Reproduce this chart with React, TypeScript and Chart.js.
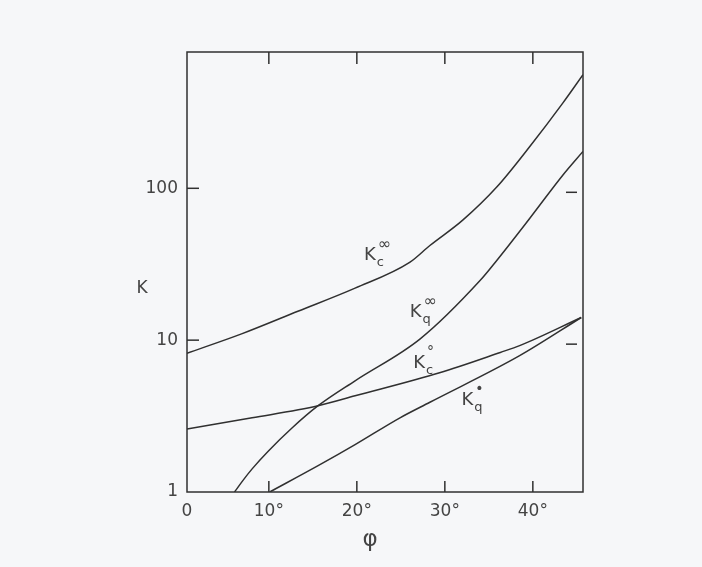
import React, { useEffect, useRef } from "react";
import { Chart, registerables } from "chart.js";

Chart.register(...registerables);

// Kc∞ curve (φ in degrees, K)
const PHI_KC_INF = [0.7, 6.9, 13.3, 19.8, 26.0, 28.3, 32.0, 35.9, 39.7, 43.4, 45.7];
const KC_INF = [8.2, 11.0, 15.5, 22.0, 32.5, 42, 61.5, 102, 190, 364, 560];

// Kq∞ curve
const PHI_KQ_INF = [6.1, 7.0, 8.1, 9.9, 12.6, 15.6, 19.8, 27.2, 34.0, 35.9, 39.7, 43.4, 45.7];
const KQ_INF = [1.0, 1.18, 1.42, 1.85, 2.63, 3.7, 5.4, 10.2, 24.7, 33.5, 64, 122, 175];

// Kc° curve
const PHI_KC_0 = [0.7, 8.1, 15.6, 19.8, 29.4, 36.3, 38.5, 45.5];
const KC_0 = [2.6, 3.08, 3.7, 4.3, 6.1, 8.3, 9.2, 14.1];

// Kq° curve
const PHI_KQ_0 = [10.1, 15.6, 19.8, 24.9, 28.3, 38.5, 45.5];
const KQ_0 = [1.0, 1.49, 2.05, 3.08, 3.9, 7.9, 14.1];

const X_TICKS = [0.7, 10, 20, 30, 40];
const X_TICK_LABELS = ["0", "10°", "20°", "30°", "40°"];
const Y_TICKS = [1, 10, 100];
const Y_TICK_LABELS = ["1", "10", "100"];

const CURVE_LABELS = [
  { phi: 20.8, k: 36.1, sub: "c", sup: "∞" },
  { phi: 26.0, k: 15.2, sub: "q", sup: "∞" },
  { phi: 26.4, k: 7.0, sub: "c", sup: "°" },
  { phi: 31.9, k: 4.0, sub: "q", sup: "•" },
];

const INK = "#303030";
const TEXT = "#444444";
const FONT = "'DejaVu Sans', sans-serif";

const pts = (xs: number[], ys: number[]) => xs.map((x, i) => ({ x, y: ys[i] }));

const framePlugin = {
  id: "frame",
  afterDraw(chart: any) {
    const { ctx, chartArea: a, scales } = chart;
    const xs = scales.x;
    const ys = scales.y;
    ctx.save();
    ctx.strokeStyle = INK;
    ctx.lineWidth = 1.5;
    ctx.strokeRect(a.left, a.top, a.right - a.left, a.bottom - a.top);
    const line = (x1: number, y1: number, x2: number, y2: number) => {
      ctx.beginPath();
      ctx.moveTo(x1, y1);
      ctx.lineTo(x2, y2);
      ctx.stroke();
    };
    [10, 20, 30, 40].forEach((v) => {
      const px = xs.getPixelForValue(v);
      line(px, a.bottom, px, a.bottom - 11);
      line(px, a.top, px, a.top + 12);
    });
    [10, 100].forEach((v) => {
      const py = ys.getPixelForValue(v);
      line(a.left, py, a.left + 12, py);
      line(a.right - 17, py + 4, a.right - 6, py + 4);
    });

    ctx.fillStyle = TEXT;
    ctx.textBaseline = "middle";
    ctx.textAlign = "center";
    ctx.font = `17px ${FONT}`;
    ctx.fillText("K", a.left - 45, ys.getPixelForValue(22));
    ctx.font = `23px ${FONT}`;
    ctx.fillText("φ", xs.getPixelForValue(21.5), a.bottom + 48);

    ctx.textAlign = "left";
    CURVE_LABELS.forEach((l) => {
      const px = xs.getPixelForValue(l.phi);
      const py = ys.getPixelForValue(l.k);
      ctx.font = `18px ${FONT}`;
      ctx.fillText("K", px, py);
      const w = ctx.measureText("K").width;
      ctx.font = `13px ${FONT}`;
      ctx.fillText(l.sub, px + w + 1, py + 7);
      ctx.font = l.sup === "∞" ? `16px ${FONT}` : `14px ${FONT}`;
      ctx.fillText(l.sup, px + w + 2, py - 11);
    });
    ctx.restore();
  },
};

export default function App() {
  const ref = useRef<HTMLCanvasElement | null>(null);

  useEffect(() => {
    if (!ref.current) return;
    const ds = (data: any[]) => ({
      data,
      borderColor: INK,
      borderWidth: 1.5,
      pointRadius: 0,
      fill: false,
      cubicInterpolationMode: "monotone" as const,
    });
    const chart = new Chart(ref.current, {
      type: "line",
      data: {
        datasets: [
          ds(pts(PHI_KC_INF, KC_INF)),
          ds(pts(PHI_KQ_INF, KQ_INF)),
          ds(pts(PHI_KC_0, KC_0)),
          ds(pts(PHI_KQ_0, KQ_0)),
        ],
      },
      options: {
        animation: false,
        responsive: false,
        layout: { padding: { left: 0, top: 52, right: 119, bottom: 0 } },
        plugins: { legend: { display: false }, tooltip: { enabled: false } },
        scales: {
          x: {
            type: "linear",
            min: 0.7,
            max: 45.7,
            grid: { display: false, drawTicks: false },
            border: { display: false },
            afterBuildTicks: (s: any) => {
              s.ticks = X_TICKS.map((v) => ({ value: v }));
            },
            afterFit: (s: any) => {
              s.height = 75;
            },
            ticks: {
              padding: 9,
              color: TEXT,
              font: { size: 17, family: FONT },
              maxRotation: 0,
              autoSkip: false,
              callback: (v: any) => {
                const i = X_TICKS.indexOf(Number(v));
                return i >= 0 ? X_TICK_LABELS[i] : "";
              },
            },
          },
          y: {
            type: "logarithmic",
            min: 1,
            max: 790,
            grid: { display: false, drawTicks: false },
            border: { display: false },
            afterBuildTicks: (s: any) => {
              s.ticks = Y_TICKS.map((v) => ({ value: v }));
            },
            afterFit: (s: any) => {
              s.width = 187;
            },
            ticks: {
              padding: 9,
              color: TEXT,
              font: { size: 17, family: FONT },
              autoSkip: false,
              callback: (v: any) => {
                const i = Y_TICKS.indexOf(Number(v));
                return i >= 0 ? Y_TICK_LABELS[i] : "";
              },
            },
          },
        },
      },
      plugins: [framePlugin],
    });
    return () => chart.destroy();
  }, []);

  return (
    <div
      style={{
        position: "fixed",
        left: 0,
        top: 0,
        width: 702,
        height: 567,
        background: "#f6f7f9",
      }}
    >
      <canvas ref={ref} width={702} height={567} style={{ display: "block" }} />
    </div>
  );
}
